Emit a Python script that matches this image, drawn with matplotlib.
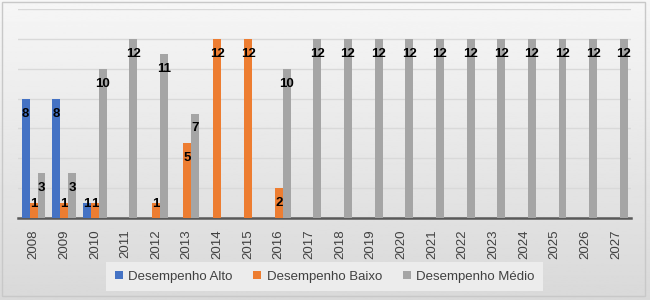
import numpy as np
import matplotlib
matplotlib.use("Agg")
import matplotlib.pyplot as plt
from matplotlib.patches import Rectangle

anos = [str(a) for a in range(2008, 2028)]
alto = [8, 8, 1, 0, 0, 0, 0, 0, 0, 0, 0, 0, 0, 0, 0, 0, 0, 0, 0, 0]
baixo = [1, 1, 1, 0, 1, 5, 12, 12, 2, 0, 0, 0, 0, 0, 0, 0, 0, 0, 0, 0]
medio = [3, 3, 10, 12, 11, 7, 0, 0, 10, 12, 12, 12, 12, 12, 12, 12, 12, 12, 12, 12]

series = [("Desempenho Alto", alto, "#4472C4"),
          ("Desempenho Baixo", baixo, "#ED7D31"),
          ("Desempenho Médio", medio, "#A5A5A5")]

plt.rcParams['font.family'] = ['Liberation Sans', 'DejaVu Sans']

fig = plt.figure(figsize=(6.5, 3.0), dpi=100)

# fundo em degradê
bg = fig.add_axes([0, 0, 1, 1], zorder=-10)
grad = np.linspace(0.965, 0.85, 256).reshape(-1, 1)
bg.imshow(grad, aspect="auto", cmap="gray", vmin=0, vmax=1, extent=[0, 1, 0, 1])
bg.add_patch(Rectangle((0.003, 0.015), 0.99, 0.98, fill=False, edgecolor="#c8c8c8", lw=1))
bg.set_xlim(0, 1)
bg.set_ylim(0, 1)
bg.axis("off")

ax = fig.add_axes([0.028, 0.273, 0.943, 0.697])
ax.patch.set_alpha(0)

x = np.arange(len(anos))
w = 0.26
for i, (nome, vals, cor) in enumerate(series):
    pos = x + (i - 1) * w
    ax.bar(pos, vals, w, color=cor, label=nome, zorder=3)
    for p, v in zip(pos, vals):
        if v > 0:
            ax.text(p, max(v - 1, 0.95), str(v), ha="center", va="center",
                    fontsize=9.5, fontweight="bold", color="black", zorder=4)

ax.set_xlim(-0.5, len(anos) - 0.5)
ax.set_ylim(0, 14)
ax.set_yticks(range(0, 15, 2))
ax.set_yticklabels([])
ax.tick_params(axis="y", length=0)
ax.grid(axis="y", color="#d9d9d9", lw=1, zorder=0)
ax.set_xticks(x)
ax.set_xticklabels(anos, rotation=90, fontsize=9.5, color="#404040")
ax.tick_params(axis="x", length=0, pad=8)
for s in ["top", "right", "left"]:
    ax.spines[s].set_visible(False)
ax.spines["bottom"].set_color("#595959")
ax.spines["bottom"].set_linewidth(1.8)

leg = ax.legend(loc="center", bbox_to_anchor=(0.5, -0.28), ncol=3, frameon=True,
                fontsize=9.5, handlelength=0.6, handleheight=0.6, handletextpad=0.4,
                columnspacing=1.6, borderpad=0.65)
leg.get_frame().set_facecolor("#ececec")
leg.get_frame().set_edgecolor("none")
leg.get_frame().set_alpha(1)
leg.get_frame().set_boxstyle("square", pad=0)
for t in leg.get_texts():
    t.set_color("#404040")

fig.savefig("out.png", dpi=100)
